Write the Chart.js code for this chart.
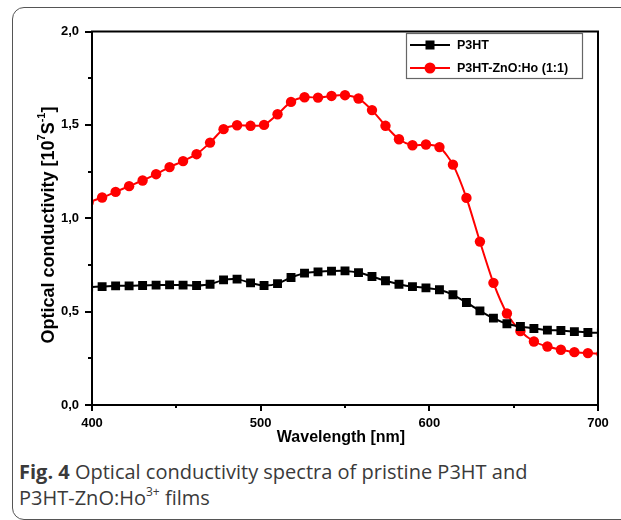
<!DOCTYPE html>
<html>
<head>
<meta charset="utf-8">
<script src="https://cdn.jsdelivr.net/npm/chart.js@4/dist/chart.umd.min.js"></script>
<style>
  html, body { margin: 0; padding: 0; background: #fff; }
  body { width: 621px; height: 520px; position: relative; overflow: hidden; }
  #card {
    position: absolute; left: 12px; top: 7px; width: 680px; height: 511px;
    border: 1.5px solid #555; border-radius: 12px;
  }
  #myChart { position: absolute; left: 0; top: 0; }
  #caption {
    position: absolute; left: 19px; top: 459px; width: 540px;
    font-family: "Open Sans", sans-serif; font-size: 20px; line-height: 26px; color: #3a3a3a;
  }
  #caption sup { font-size: 12px; line-height: 0; position: relative; top: -1px; }
</style>
</head>
<body>
<div id="card"></div>
<canvas id="myChart" width="621" height="450"></canvas>
<div id="caption"><b>Fig. 4</b> Optical conductivity spectra of pristine P3HT and P3HT-ZnO:Ho<sup>3+</sup> films</div>
<script>
// wavelength in nm, one point every 8 nm (first and last lie just outside the axis)
const wavelength = [398, 406, 414, 422, 430, 438, 446, 454, 462, 470, 478, 486, 494, 502, 510, 518, 526, 534, 542,
  550, 558, 566, 574, 582, 590, 598, 606, 614, 622, 630, 638, 646, 654, 662, 670, 678, 686, 694, 702]

const p3ht = [0.632, 0.634, 0.638, 0.638, 0.640, 0.642, 0.643, 0.642, 0.640, 0.647, 0.670, 0.674, 0.654, 0.640, 0.650,
  0.683, 0.706, 0.713, 0.717, 0.718, 0.709, 0.688, 0.665, 0.647, 0.634, 0.627, 0.617, 0.590, 0.549, 0.504,
  0.465, 0.435, 0.420, 0.410, 0.401, 0.399, 0.393, 0.388, 0.386]

const p3htZnO = [1.085, 1.111, 1.141, 1.172, 1.202, 1.236, 1.274, 1.306, 1.343, 1.405, 1.477, 1.498, 1.495, 1.500, 1.557,
  1.623, 1.648, 1.646, 1.655, 1.659, 1.641, 1.579, 1.495, 1.423, 1.391, 1.395, 1.381, 1.287, 1.109, 0.875,
  0.654, 0.490, 0.396, 0.340, 0.313, 0.296, 0.283, 0.278, 0.274]

const seriesLabels = ['P3HT', 'P3HT-ZnO:Ho (1:1)']
const xTicks = [400, 500, 600, 700]
const yTicks = [0, 0.5, 1.0, 1.5, 2.0]

const toPoints = (xs, ys) => xs.map((x, i) => ({ x: x, y: ys[i] }))

const fontFam = '"Liberation Sans", Arial, sans-serif'

// frame, minor ticks, titles and legend
const decorations = {
  id: 'decorations',
  afterDraw(chart) {
    const ctx = chart.ctx
    const area = chart.chartArea
    const xs = chart.scales.x
    const ys = chart.scales.y
    ctx.save()
    ctx.strokeStyle = '#000'
    ctx.lineWidth = 2
    ctx.strokeRect(area.left, area.top, area.right - area.left, area.bottom - area.top)

    // x ticks (major every 100, minor every 50)
    for (let v = 400; v <= 700; v += 50) {
      const px = Math.round(xs.getPixelForValue(v))
      const len = v % 100 === 0 ? 6 : 3
      ctx.beginPath()
      ctx.moveTo(px, area.bottom)
      ctx.lineTo(px, area.bottom + len)
      ctx.stroke()
    }
    // y ticks (major every 0.5, minor every 0.25)
    for (let i = 0; i <= 8; i++) {
      const v = i * 0.25
      const py = Math.round(ys.getPixelForValue(v))
      const len = i % 2 === 0 ? 7 : 4
      ctx.beginPath()
      ctx.moveTo(area.left, py)
      ctx.lineTo(area.left - len, py)
      ctx.stroke()
    }

    // x title
    ctx.fillStyle = '#000'
    ctx.font = 'bold 16px ' + fontFam
    ctx.textAlign = 'center'
    ctx.textBaseline = 'middle'
    ctx.fillText('Wavelength [nm]', (area.left + area.right) / 2 - 4, 438)

    // y title with superscripts
    const big = 'bold 18px ' + fontFam
    const small = 'bold 11px ' + fontFam
    const parts = [
      ['Optical conductivity [10', big, 0],
      ['7', small, -7],
      ['S', big, 0],
      ['-1', small, -7],
      [']', big, 0]
    ]
    let total = 0
    parts.forEach(p => { ctx.font = p[1]; total += ctx.measureText(p[0]).width })
    ctx.translate(49, 225)
    ctx.rotate(-Math.PI / 2)
    ctx.textAlign = 'left'
    ctx.textBaseline = 'middle'
    let cx = -total / 2
    parts.forEach(p => {
      ctx.font = p[1]
      ctx.fillText(p[0], cx, p[2])
      cx += ctx.measureText(p[0]).width
    })
    ctx.setTransform(1, 0, 0, 1, 0, 0)

    // legend
    ctx.strokeStyle = '#666'
    ctx.lineWidth = 1.2
    ctx.strokeRect(406.5, 33.5, 176, 45)
    const rows = [45, 68]
    chart.data.datasets.forEach((ds, i) => {
      const y = rows[i]
      ctx.strokeStyle = ds.borderColor
      ctx.lineWidth = 2
      ctx.beginPath()
      ctx.moveTo(410, y)
      ctx.lineTo(450, y)
      ctx.stroke()
      ctx.fillStyle = ds.backgroundColor
      if (ds.pointStyle === 'rect') {
        ctx.fillRect(425.5, y - 4.5, 9, 9)
      } else {
        ctx.beginPath()
        ctx.arc(430, y, 5.5, 0, Math.PI * 2)
        ctx.fill()
      }
      ctx.fillStyle = '#000'
      ctx.font = 'bold 12.5px ' + fontFam
      ctx.textAlign = 'left'
      ctx.textBaseline = 'middle'
      ctx.fillText(ds.label, 457, y + 1)
    })
    ctx.restore()
  }
}

const ctx = document.querySelector('#myChart')

const myChart = new Chart(ctx, {
  type: 'line',
  data: {
    datasets: [
      {
        label: seriesLabels[0],
        data: toPoints(wavelength, p3ht),
        borderColor: '#000',
        backgroundColor: '#000',
        borderWidth: 2,
        pointStyle: 'rect',
        pointRadius: 6.3,
        pointBorderWidth: 0,
        tension: 0.25
      },
      {
        label: seriesLabels[1],
        data: toPoints(wavelength, p3htZnO),
        borderColor: '#ff0000',
        backgroundColor: '#ff0000',
        borderWidth: 2,
        pointStyle: 'circle',
        pointRadius: 5.2,
        pointBorderWidth: 0,
        tension: 0.25
      }
    ]
  },
  options: {
    responsive: false,
    animation: false,
    devicePixelRatio: 1,
    layout: { padding: { left: 0, right: 23, top: 31.5, bottom: 0 } },
    plugins: { legend: { display: false }, tooltip: { enabled: false } },
    scales: {
      x: {
        type: 'linear',
        min: 400,
        max: 700,
        afterFit: (scale) => { scale.height = 45 },
        afterBuildTicks: (scale) => { scale.ticks = xTicks.map(v => ({ value: v })) },
        grid: { display: false, drawTicks: false },
        border: { display: false },
        ticks: {
          padding: 11,
          color: '#000',
          font: { family: fontFam, size: 13, weight: 'bold' },
          maxRotation: 0
        }
      },
      y: {
        min: 0,
        max: 2,
        afterFit: (scale) => { scale.width = 92 },
        afterBuildTicks: (scale) => { scale.ticks = yTicks.map(v => ({ value: v })) },
        grid: { display: false, drawTicks: false },
        border: { display: false },
        ticks: {
          padding: 13,
          color: '#000',
          font: { family: fontFam, size: 13, weight: 'bold' },
          callback: (v) => v.toFixed(1).replace('.', ',')
        }
      }
    }
  },
  plugins: [decorations]
})
</script>
</body>
</html>
